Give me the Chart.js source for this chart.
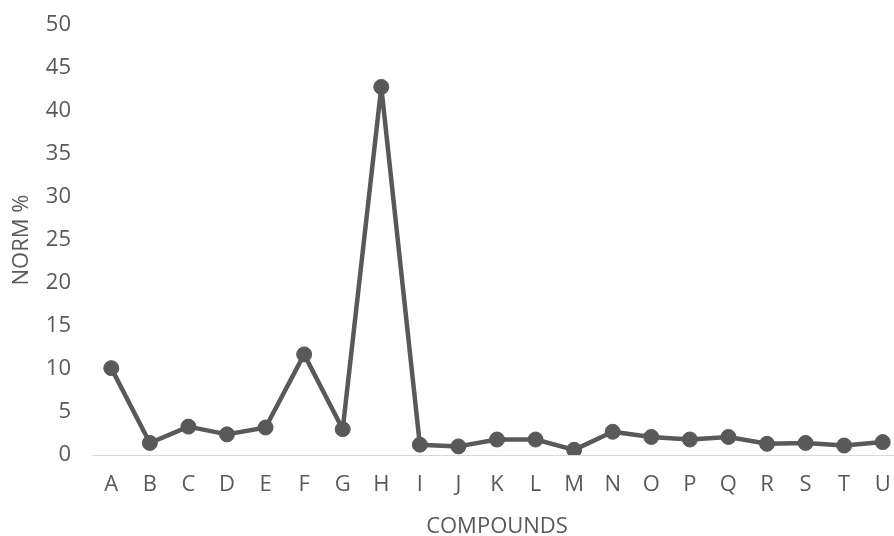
<!DOCTYPE html>
<html>
<head>
<meta charset="utf-8">
<script src="https://cdn.jsdelivr.net/npm/chart.js@4"></script>
<style>
html,body{margin:0;padding:0;background:#fff;overflow:hidden;}
#wrap{width:894px;height:536px;overflow:hidden;position:relative;}
#box{width:912px;height:540px;position:absolute;left:0;top:0;}
</style>
</head>
<body>
<div id="wrap"><div id="box"><canvas id="c"></canvas></div></div>
<script>
const categories = ["A","B","C","D","E","F","G","H","I","J","K","L","M","N","O","P","Q","R","S","T","U"];
const normValues = [10.1,1.4,3.3,2.4,3.2,11.7,3.0,42.8,1.2,1.0,1.8,1.8,0.6,2.7,2.1,1.8,2.1,1.3,1.4,1.1,1.5];
const yTitle = "NORM %";
const xTitle = "COMPOUNDS";

const grey = "#595959";
const font = {family: "'Open Sans', 'Liberation Sans', sans-serif", size: 22};

new Chart(document.getElementById("c"), {
  type: "line",
  data: {
    labels: categories,
    datasets: [{
      data: normValues,
      borderColor: grey,
      backgroundColor: grey,
      borderWidth: 4.5,
      borderJoinStyle: "round",
      borderCapStyle: "round",
      pointRadius: 7.5,
      pointHoverRadius: 7.5,
      pointBorderWidth: 1,
      pointBackgroundColor: grey,
      pointBorderColor: grey,
      tension: 0,
      fill: false
    }]
  },
  options: {
    responsive: true,
    maintainAspectRatio: false,
    animation: false,
    layout: {padding: {top: 25, left: 0, right: 10, bottom: 0}},
    plugins: {legend: {display: false}, tooltip: {enabled: false}},
    scales: {
      x: {
        offset: true,
        grid: {display: false, drawTicks: false},
        border: {display: true, color: "#d9d9d9", width: 1},
        ticks: {color: grey, font: font, padding: 17, maxRotation: 0, autoSkip: false},
        title: {display: true, text: xTitle, color: grey, font: font, padding: {top: 0, bottom: 0}},
        afterFit: s => { s.height = 85; s.paddingLeft = 0; s.paddingRight = 0; }
      },
      y: {
        min: 0, max: 50,
        grid: {display: false, drawTicks: false},
        border: {display: false},
        ticks: {stepSize: 5, color: grey, font: font, padding: 21},
        title: {display: true, text: yTitle, color: grey, font: font, padding: {top: 9, bottom: 0}},
        afterFit: s => { s.width = 92; s.paddingTop = 0; s.paddingBottom = 0; }
      }
    }
  }
});
</script>
</body>
</html>
